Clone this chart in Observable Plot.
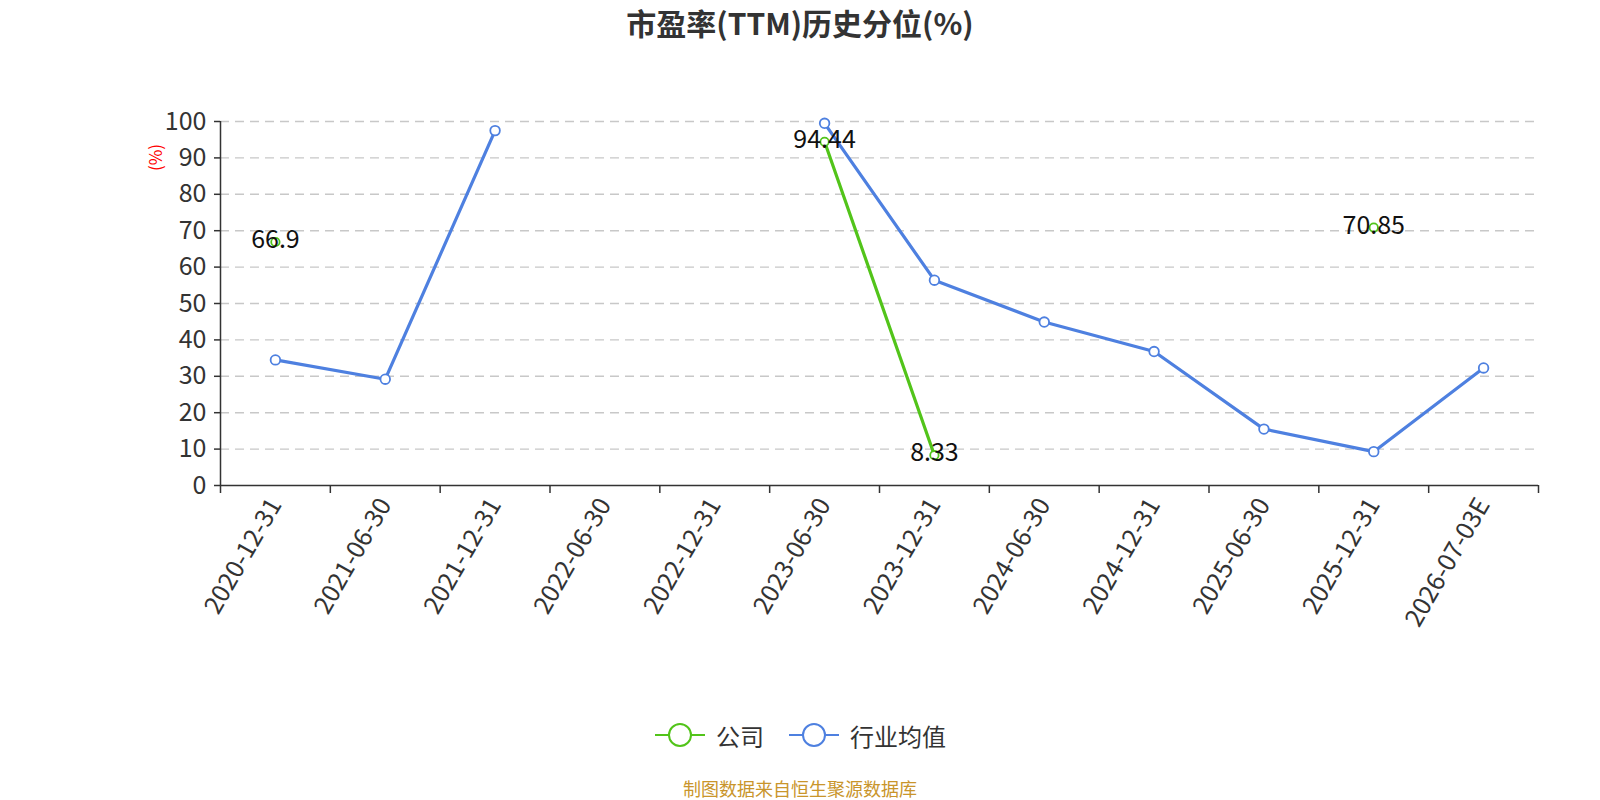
<!DOCTYPE html>
<html>
<head>
<meta charset="utf-8">
<script src="https://cdn.jsdelivr.net/npm/d3@7"></script>
<script src="https://cdn.jsdelivr.net/npm/@observablehq/plot@0.6"></script>
<style>
  body { margin: 0; background: #fff; font-family: "Noto Sans CJK SC", "Noto Sans", sans-serif; }
  #wrap { position: relative; width: 1600px; height: 800px; overflow: hidden; }
  #title { position: absolute; left: 0; width: 1600px; top: 2px; text-align: center; font-size: 30px; line-height: 40px; font-weight: bold; color: #333; }
  #chart { position: absolute; left: 0; top: 60px; }
  #legend { position: absolute; left: 0; width: 1600px; top: 719px; height: 32px; display: flex; justify-content: center; align-items: center; font-size: 24px; color: #333; }
  #legend .item { display: flex; align-items: center; margin: 0 12px; }
  #legend svg { margin-right: 10px; }
  #footer { position: absolute; left: 0; width: 1600px; top: 778px; text-align: center; font-size: 18px; line-height: 20px; color: #c9952b; }
</style>
</head>
<body>
<div id="wrap">
  <div id="title">市盈率(TTM)历史分位(%)</div>
  <div id="chart"></div>
  <div id="legend"></div>
  <div id="footer">制图数据来自恒生聚源数据库</div>
</div>
<script>
const categories = ["2020-12-31","2021-06-30","2021-12-31","2022-06-30","2022-12-31","2023-06-30","2023-12-31","2024-06-30","2024-12-31","2025-06-30","2025-12-31","2026-07-03E"];
const companyValues = [66.9, null, null, null, null, 94.44, 8.33, null, null, null, 70.85, null];
const industryValues = [34.5, 29.2, 97.5, null, null, 99.5, 56.4, 44.9, 36.8, 15.5, 9.3, 32.3];
const seriesNames = ["公司", "行业均值"];
const seriesColors = ["#52c41a", "#4e80e0"];
const yTicks = [0, 10, 20, 30, 40, 50, 60, 70, 80, 90, 100];

const companyData = categories.map((c, i) => ({i, v: companyValues[i]}));
const industryData = categories.map((c, i) => ({i, v: industryValues[i]}));
const boundaries = d3.range(categories.length + 1).map(k => k - 0.5);

const fontFamily = '"Noto Sans CJK SC", "Noto Sans", sans-serif';

const chart = Plot.plot({
  width: 1600,
  height: 640,
  marginTop: 61,
  marginBottom: 215,
  marginLeft: 220,
  marginRight: 62,
  style: {fontFamily, background: "white", overflow: "visible"},
  x: {type: "linear", domain: [-0.5, categories.length - 0.5]},
  y: {domain: [0, 100]},
  marks: [
    Plot.gridY(yTicks.filter(t => t > 0), {stroke: "#c8c8c8", strokeOpacity: 1, strokeDasharray: "9,6", strokeWidth: 1.4}),
    Plot.axisY(yTicks, {tickSize: 6, tickPadding: 8, fontSize: 25, color: "#333", stroke: "#333", strokeWidth: 1.5, label: null, tickFormat: d => d}),
    Plot.ruleX([-0.5], {stroke: "#333", strokeWidth: 1.5}),
    Plot.ruleY([0], {stroke: "#333", strokeWidth: 1.5}),
    Plot.axisX(boundaries, {tickSize: 8, tickFormat: () => "", stroke: "#333", strokeWidth: 1.5, label: null}),
    Plot.axisX(d3.range(categories.length), {tickSize: 0, tickPadding: 15, tickRotate: -60, fontSize: 25, color: "#333", tickFormat: i => categories[i], label: null}),
    Plot.text(["(%)"], {frameAnchor: "top-left", dx: -64, dy: 36, rotate: -90, textAnchor: "middle", lineAnchor: "middle", fill: "red", fontSize: 17}),
    Plot.line(industryData, {x: "i", y: "v", stroke: seriesColors[1], strokeWidth: 3.2}),
    Plot.line(companyData, {x: "i", y: "v", stroke: seriesColors[0], strokeWidth: 3.2}),
    Plot.dot(industryData, {x: "i", y: "v", r: 4.8, fill: "white", stroke: seriesColors[1], strokeWidth: 1.8}),
    Plot.dot(companyData, {x: "i", y: "v", r: 4.2, fill: "white", stroke: seriesColors[0], strokeWidth: 1.8}),
    Plot.text(companyData.filter(d => d.v != null), {x: "i", y: "v", text: d => String(d.v), fontSize: 25, fill: "#111", dy: -2})
  ]
});
document.getElementById("chart").appendChild(chart);

const legend = document.getElementById("legend");
seriesNames.forEach((name, k) => {
  const item = document.createElement("div");
  item.className = "item";
  item.innerHTML = `<svg width="52" height="28"><line x1="1" y1="14" x2="51" y2="14" stroke="${seriesColors[k]}" stroke-width="2"/><circle cx="26" cy="14" r="11" fill="white" stroke="${seriesColors[k]}" stroke-width="2"/></svg><span>${name}</span>`;
  legend.appendChild(item);
});
</script>
</body>
</html>
